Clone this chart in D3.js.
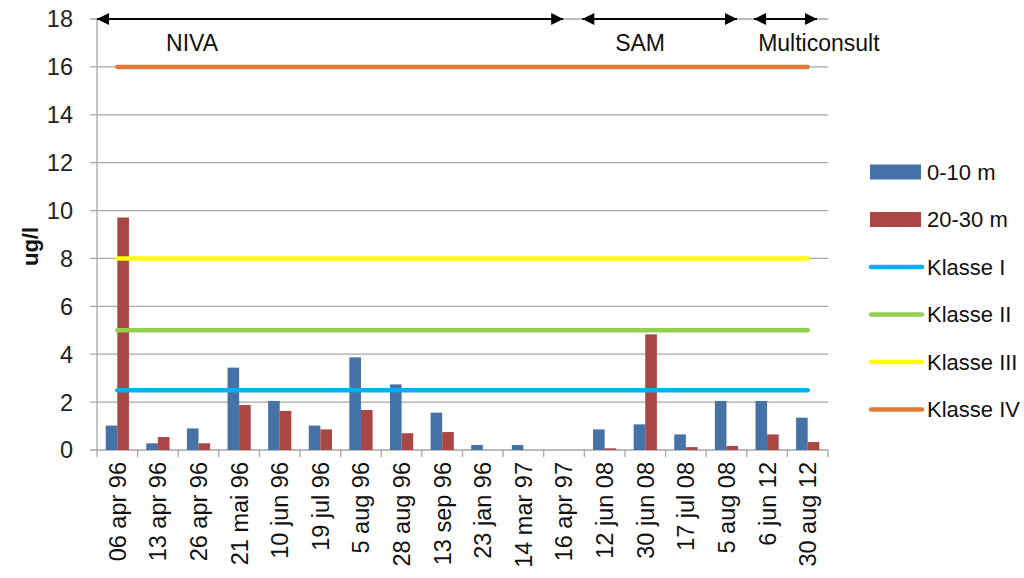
<!DOCTYPE html>
<html><head><meta charset="utf-8">
<script src="https://cdn.jsdelivr.net/npm/d3@7"></script>
<style>
body{margin:0;background:#fff;}
svg{display:block;font-family:"Liberation Sans",Arial,sans-serif;}
</style></head>
<body><svg id="c" width="1024" height="578"></svg>
<script>
const categories = ["06 apr 96","13 apr 96","26 apr 96","21 mai 96","10 jun 96","19 jul 96","5 aug 96","28 aug 96","13 sep 96","23 jan 96","14 mar 97","16 apr 97","12 jun 08","30 jun 08","17 jul 08","5 aug 08","6 jun 12","30 aug 12"];
const depth0_10 = [1.02,0.28,0.9,3.44,2.05,1.02,3.87,2.74,1.56,0.21,0.21,null,0.86,1.07,0.65,2.05,2.05,1.35];
const depth20_30 = [9.71,0.54,0.28,1.88,1.63,0.86,1.67,0.7,0.75,null,null,null,0.07,4.83,0.12,0.17,0.65,0.33];
const klasseNames = ["Klasse I","Klasse II","Klasse III","Klasse IV"];
const klasseValues = [2.5,5,8,16];
const yTicks = [0,2,4,6,8,10,12,14,16,18];
// period annotations: start/end in category units (0 = left edge of first category)
const periodNames = ["NIVA","SAM","Multiconsult"];
const periodStart = [0.0,11.95,16.18];
const periodEnd = [11.48,15.76,17.73];
const periodLabelPos = [1.70,12.76,16.28];

const barColors = ["#4572a7","#aa4643"];
const lineColors = ["#00b0f0","#92d050","#ffff00","#e07b39"];

const svg = d3.select("#c");
const L = 97, R = 828, T = 19, B = 450;
const x = d3.scaleBand().domain(categories).range([L,R]).paddingInner(0).paddingOuter(0);
const xc = d3.scaleLinear().domain([0,categories.length]).range([L,R]);
const y = d3.scaleLinear().domain([0,18]).range([B,T]);
const bw = x.bandwidth()/3.5;
const xs = d3.scaleBand().domain([0,1]).range([x.bandwidth()/2-bw, x.bandwidth()/2+bw]);

// gridlines
svg.append("g").selectAll("line").data(yTicks).join("line")
  .attr("x1",L-7).attr("x2",R).attr("y1",d=>y(d)).attr("y2",d=>y(d))
  .attr("stroke","#a6a6a6").attr("stroke-width",1.3);
// y axis line
svg.append("line").attr("x1",L).attr("x2",L).attr("y1",T).attr("y2",B).attr("stroke","#a6a6a6").attr("stroke-width",1.3);
// y tick labels
svg.append("g").selectAll("text").data(yTicks).join("text")
  .attr("x",L-24).attr("y",d=>y(d)).attr("dy","0.36em").attr("text-anchor","end")
  .attr("font-size",23.5).attr("fill","#222").text(d=>d);
// x tick marks
svg.append("g").selectAll("line").data(d3.range(categories.length+1)).join("line")
  .attr("x1",d=>xc(d)).attr("x2",d=>xc(d)).attr("y1",B).attr("y2",B+7)
  .attr("stroke","#a6a6a6").attr("stroke-width",1.3);
// x labels
svg.append("g").selectAll("text").data(categories).join("text")
  .attr("transform",d=>`translate(${x(d)+x.bandwidth()/2},${B+12}) rotate(-90)`)
  .attr("dy","0.36em").attr("text-anchor","end").attr("font-size",23.5).attr("fill","#111").text(d=>d);

// bars
const series = [depth0_10, depth20_30];
series.forEach((s,si)=>{
  svg.append("g").selectAll("rect").data(categories.map((c,i)=>({c,v:s[i]})).filter(d=>d.v!=null)).join("rect")
    .attr("x",d=>x(d.c)+xs(si)).attr("width",xs.bandwidth())
    .attr("y",d=>y(d.v)).attr("height",d=>B-y(d.v)).attr("fill",barColors[si]);
});

// klasse lines
const first = categories[0], last = categories[categories.length-1];
svg.append("g").selectAll("line").data(klasseValues).join("line")
  .attr("x1",x(first)+x.bandwidth()/2).attr("x2",x(last)+x.bandwidth()/2)
  .attr("y1",d=>y(d)).attr("y2",d=>y(d))
  .attr("stroke",(d,i)=>lineColors[i]).attr("stroke-width",4.5).attr("stroke-linecap","round");

// period arrows
const defs = svg.append("defs");
defs.append("marker").attr("id","ah").attr("viewBox","0 0 10 10").attr("refX",10).attr("refY",5)
  .attr("markerWidth",14).attr("markerHeight",12).attr("markerUnits","userSpaceOnUse").attr("orient","auto-start-reverse")
  .append("path").attr("d","M0,0L10,5L0,10Z").attr("fill","#000");
svg.append("g").selectAll("line").data(periodNames).join("line")
  .attr("x1",(d,i)=>xc(periodStart[i])).attr("x2",(d,i)=>xc(periodEnd[i]))
  .attr("y1",y(18)).attr("y2",y(18)).attr("stroke","#000").attr("stroke-width",2)
  .attr("marker-start","url(#ah)").attr("marker-end","url(#ah)");
svg.append("g").selectAll("text").data(periodNames).join("text")
  .attr("x",(d,i)=>xc(periodLabelPos[i])).attr("y",y(17.0)).attr("dy","0.36em")
  .attr("font-size",23).attr("fill","#111").text(d=>d);

// y title
svg.append("text").attr("transform",`translate(38,${y(8.5)}) rotate(-90)`).attr("text-anchor","middle")
  .attr("font-size",22).attr("font-weight","bold").attr("fill","#111").text("ug/l");

// legend
const legNames = ["0-10 m","20-30 m"].concat(klasseNames);
const lg = svg.append("g").attr("transform","translate(870,172)");
legNames.forEach((n,i)=>{
  const g = lg.append("g").attr("transform",`translate(0,${i*47.5})`);
  if(i<2){ g.append("rect").attr("x",0).attr("y",-7.5).attr("width",51).attr("height",15).attr("fill",barColors[i]); }
  else { g.append("line").attr("x1",1).attr("x2",52).attr("y1",0).attr("y2",0).attr("stroke",lineColors[i-2]).attr("stroke-width",4.5).attr("stroke-linecap","round"); }
  g.append("text").attr("x",57).attr("y",0).attr("dy","0.36em").attr("font-size",22).attr("fill","#111").text(n);
});
</script></body></html>
